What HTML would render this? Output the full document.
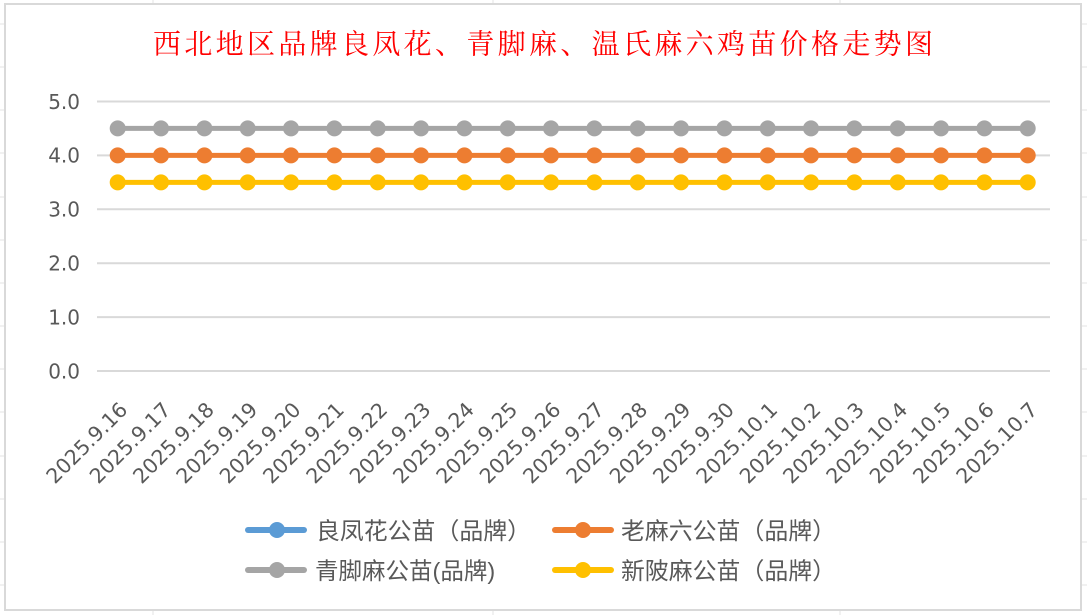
<!DOCTYPE html>
<html><head><meta charset="utf-8"><style>
html,body{margin:0;padding:0;background:#fff;}
svg{display:block;}
</style></head><body>
<svg width="1087" height="615" viewBox="0 0 1087 615" xmlns="http://www.w3.org/2000/svg">
<rect x="0" y="0" width="1087" height="615" fill="#fff"/>
<!-- spreadsheet grid outside chart -->
<g stroke="#e3e3e3" stroke-width="1">
<line x1="0" y1="24" x2="5" y2="24"/><line x1="0" y1="67" x2="5" y2="67"/><line x1="0" y1="110" x2="5" y2="110"/><line x1="0" y1="153" x2="5" y2="153"/><line x1="0" y1="197" x2="5" y2="197"/><line x1="0" y1="240" x2="5" y2="240"/><line x1="0" y1="283" x2="5" y2="283"/><line x1="0" y1="326" x2="5" y2="326"/><line x1="0" y1="369" x2="5" y2="369"/><line x1="0" y1="412" x2="5" y2="412"/><line x1="0" y1="456" x2="5" y2="456"/><line x1="0" y1="499" x2="5" y2="499"/><line x1="0" y1="542" x2="5" y2="542"/><line x1="0" y1="585" x2="5" y2="585"/>
<line x1="1081" y1="24" x2="1087" y2="24"/><line x1="1081" y1="67" x2="1087" y2="67"/><line x1="1081" y1="110" x2="1087" y2="110"/><line x1="1081" y1="153" x2="1087" y2="153"/><line x1="1081" y1="197" x2="1087" y2="197"/><line x1="1081" y1="240" x2="1087" y2="240"/><line x1="1081" y1="283" x2="1087" y2="283"/><line x1="1081" y1="326" x2="1087" y2="326"/><line x1="1081" y1="369" x2="1087" y2="369"/><line x1="1081" y1="412" x2="1087" y2="412"/><line x1="1081" y1="456" x2="1087" y2="456"/><line x1="1081" y1="499" x2="1087" y2="499"/><line x1="1081" y1="542" x2="1087" y2="542"/><line x1="1081" y1="585" x2="1087" y2="585"/>
<line x1="153" y1="0" x2="153" y2="4"/><line x1="493" y1="0" x2="493" y2="4"/><line x1="840" y1="0" x2="840" y2="4"/>
<line x1="153" y1="610" x2="153" y2="615"/><line x1="493" y1="610" x2="493" y2="615"/><line x1="840" y1="610" x2="840" y2="615"/>
</g>
<!-- chart border -->
<rect x="5" y="4" width="1076" height="606" fill="#fff" stroke="#d9d9d9" stroke-width="2"/>

<!-- title -->
<text x="153" y="53.5" font-family="'Liberation Serif','Noto Serif CJK SC',serif" font-size="28" fill="#ff0000" textLength="780" lengthAdjust="spacing">西北地区品牌良凤花、青脚麻、温氏麻六鸡苗价格走势图</text>

<!-- gridlines -->
<g stroke="#d9d9d9" stroke-width="2">
<line x1="97" y1="101.5" x2="1050" y2="101.5"/>
<line x1="97" y1="155.4" x2="1050" y2="155.4"/>
<line x1="97" y1="209.3" x2="1050" y2="209.3"/>
<line x1="97" y1="263.2" x2="1050" y2="263.2"/>
<line x1="97" y1="317.1" x2="1050" y2="317.1"/>
<line x1="97" y1="371" x2="1050" y2="371"/>
</g>
<!-- y labels -->
<g font-family="'DejaVu Sans',sans-serif" font-size="20" fill="#595959" text-anchor="end">
<text x="80" y="108.8">5.0</text>
<text x="80" y="162.7">4.0</text>
<text x="80" y="216.6">3.0</text>
<text x="80" y="270.5">2.0</text>
<text x="80" y="324.4">1.0</text>
<text x="80" y="378.3">0.0</text>
</g>

<!-- series -->
<g stroke-width="5" fill="none">
<line x1="117.7" y1="128.4" x2="1027.7" y2="128.4" stroke="#a5a5a5"/>
<line x1="117.7" y1="155.4" x2="1027.7" y2="155.4" stroke="#ed7d31"/>
<line x1="117.7" y1="182.4" x2="1027.7" y2="182.4" stroke="#ffc000"/>
</g>
<g id="markers">
<g fill="#a5a5a5">
<circle cx="117.7" cy="128.4" r="8"/><circle cx="161.0" cy="128.4" r="8"/><circle cx="204.4" cy="128.4" r="8"/><circle cx="247.7" cy="128.4" r="8"/><circle cx="291.0" cy="128.4" r="8"/><circle cx="334.4" cy="128.4" r="8"/><circle cx="377.7" cy="128.4" r="8"/><circle cx="421.0" cy="128.4" r="8"/><circle cx="464.4" cy="128.4" r="8"/><circle cx="507.7" cy="128.4" r="8"/><circle cx="551.0" cy="128.4" r="8"/><circle cx="594.4" cy="128.4" r="8"/><circle cx="637.7" cy="128.4" r="8"/><circle cx="681.0" cy="128.4" r="8"/><circle cx="724.4" cy="128.4" r="8"/><circle cx="767.7" cy="128.4" r="8"/><circle cx="811.0" cy="128.4" r="8"/><circle cx="854.4" cy="128.4" r="8"/><circle cx="897.7" cy="128.4" r="8"/><circle cx="941.0" cy="128.4" r="8"/><circle cx="984.4" cy="128.4" r="8"/><circle cx="1027.7" cy="128.4" r="8"/>
</g>
<g fill="#ed7d31">
<circle cx="117.7" cy="155.4" r="8"/><circle cx="161.0" cy="155.4" r="8"/><circle cx="204.4" cy="155.4" r="8"/><circle cx="247.7" cy="155.4" r="8"/><circle cx="291.0" cy="155.4" r="8"/><circle cx="334.4" cy="155.4" r="8"/><circle cx="377.7" cy="155.4" r="8"/><circle cx="421.0" cy="155.4" r="8"/><circle cx="464.4" cy="155.4" r="8"/><circle cx="507.7" cy="155.4" r="8"/><circle cx="551.0" cy="155.4" r="8"/><circle cx="594.4" cy="155.4" r="8"/><circle cx="637.7" cy="155.4" r="8"/><circle cx="681.0" cy="155.4" r="8"/><circle cx="724.4" cy="155.4" r="8"/><circle cx="767.7" cy="155.4" r="8"/><circle cx="811.0" cy="155.4" r="8"/><circle cx="854.4" cy="155.4" r="8"/><circle cx="897.7" cy="155.4" r="8"/><circle cx="941.0" cy="155.4" r="8"/><circle cx="984.4" cy="155.4" r="8"/><circle cx="1027.7" cy="155.4" r="8"/>
</g>
<g fill="#ffc000">
<circle cx="117.7" cy="182.4" r="8"/><circle cx="161.0" cy="182.4" r="8"/><circle cx="204.4" cy="182.4" r="8"/><circle cx="247.7" cy="182.4" r="8"/><circle cx="291.0" cy="182.4" r="8"/><circle cx="334.4" cy="182.4" r="8"/><circle cx="377.7" cy="182.4" r="8"/><circle cx="421.0" cy="182.4" r="8"/><circle cx="464.4" cy="182.4" r="8"/><circle cx="507.7" cy="182.4" r="8"/><circle cx="551.0" cy="182.4" r="8"/><circle cx="594.4" cy="182.4" r="8"/><circle cx="637.7" cy="182.4" r="8"/><circle cx="681.0" cy="182.4" r="8"/><circle cx="724.4" cy="182.4" r="8"/><circle cx="767.7" cy="182.4" r="8"/><circle cx="811.0" cy="182.4" r="8"/><circle cx="854.4" cy="182.4" r="8"/><circle cx="897.7" cy="182.4" r="8"/><circle cx="941.0" cy="182.4" r="8"/><circle cx="984.4" cy="182.4" r="8"/><circle cx="1027.7" cy="182.4" r="8"/>
</g>
</g>

<!-- x labels -->
<g font-family="'DejaVu Sans',sans-serif" font-size="20.5" fill="#595959" text-anchor="end">
<text transform="translate(128.7,411) rotate(-45)">2025.9.16</text>
<text transform="translate(172.0,411) rotate(-45)">2025.9.17</text>
<text transform="translate(215.4,411) rotate(-45)">2025.9.18</text>
<text transform="translate(258.7,411) rotate(-45)">2025.9.19</text>
<text transform="translate(302.0,411) rotate(-45)">2025.9.20</text>
<text transform="translate(345.4,411) rotate(-45)">2025.9.21</text>
<text transform="translate(388.7,411) rotate(-45)">2025.9.22</text>
<text transform="translate(432.0,411) rotate(-45)">2025.9.23</text>
<text transform="translate(475.4,411) rotate(-45)">2025.9.24</text>
<text transform="translate(518.7,411) rotate(-45)">2025.9.25</text>
<text transform="translate(562.0,411) rotate(-45)">2025.9.26</text>
<text transform="translate(605.4,411) rotate(-45)">2025.9.27</text>
<text transform="translate(648.7,411) rotate(-45)">2025.9.28</text>
<text transform="translate(692.0,411) rotate(-45)">2025.9.29</text>
<text transform="translate(735.4,411) rotate(-45)">2025.9.30</text>
<text transform="translate(778.7,411) rotate(-45)">2025.10.1</text>
<text transform="translate(822.0,411) rotate(-45)">2025.10.2</text>
<text transform="translate(865.4,411) rotate(-45)">2025.10.3</text>
<text transform="translate(908.7,411) rotate(-45)">2025.10.4</text>
<text transform="translate(952.0,411) rotate(-45)">2025.10.5</text>
<text transform="translate(995.4,411) rotate(-45)">2025.10.6</text>
<text transform="translate(1038.7,411) rotate(-45)">2025.10.7</text>
</g>

<!-- legend -->
<g stroke-width="6" stroke-linecap="round">
<line x1="248" y1="530" x2="304" y2="530" stroke="#5b9bd5"/>
<line x1="555" y1="530" x2="611" y2="530" stroke="#ed7d31"/>
<line x1="248" y1="570" x2="304" y2="570" stroke="#a5a5a5"/>
<line x1="555" y1="570" x2="611" y2="570" stroke="#ffc000"/>
</g>
<circle cx="277" cy="530" r="8" fill="#5b9bd5"/>
<circle cx="583" cy="530" r="8" fill="#ed7d31"/>
<circle cx="277" cy="570" r="8" fill="#a5a5a5"/>
<circle cx="583" cy="570" r="8" fill="#ffc000"/>
<g font-family="'Liberation Sans','Noto Sans CJK SC',sans-serif" font-size="23.5" fill="#595959">
<text x="316" y="539" textLength="215" lengthAdjust="spacingAndGlyphs">良凤花公苗（品牌）</text>
<text x="621" y="539" textLength="215" lengthAdjust="spacingAndGlyphs">老麻六公苗（品牌）</text>
<text x="315" y="579">青脚麻公苗(品牌)</text>
<text x="621" y="579" textLength="215" lengthAdjust="spacingAndGlyphs">新陂麻公苗（品牌）</text>
</g>
</svg>
</body></html>
